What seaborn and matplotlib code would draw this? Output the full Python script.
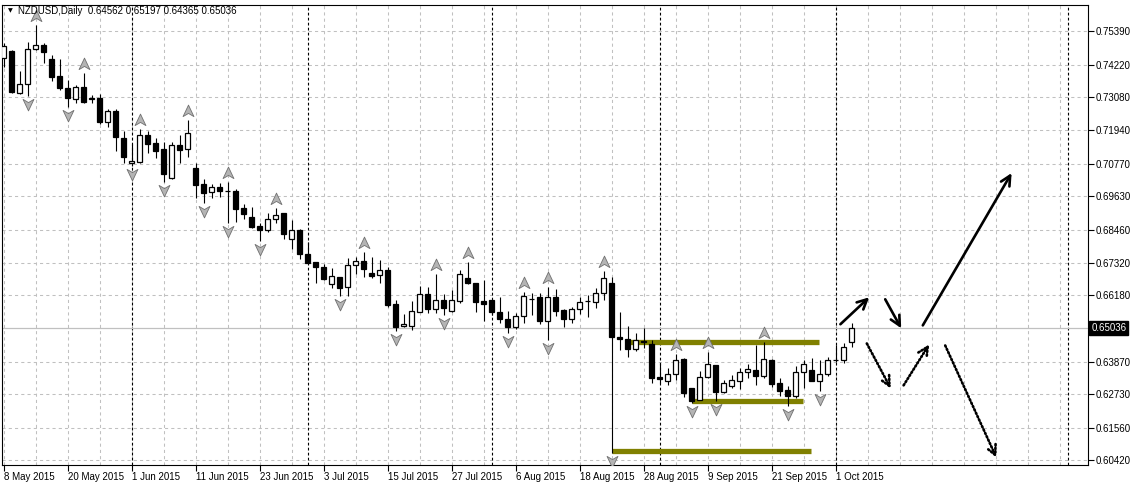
import numpy as np
import pandas as pd
import matplotlib
matplotlib.use('Agg')
import matplotlib.pyplot as plt
import seaborn as sns
from matplotlib.path import Path
from matplotlib.transforms import blended_transform_factory

# NZDUSD daily candles, 8 May 2015 .. 5 Oct 2015
opens = [0.7445, 0.7470, 0.7323, 0.7354, 0.7476, 0.7490, 0.7442, 0.7382, 0.7341, 0.7302,
         0.7344, 0.7306, 0.7306, 0.7222, 0.7260, 0.7166, 0.7079, 0.7083, 0.7177, 0.7149,
         0.7128, 0.7027, 0.7142, 0.7128, 0.7062, 0.7006, 0.6978, 0.6995, 0.6982, 0.6982,
         0.6922, 0.6891, 0.6860, 0.6846, 0.6884, 0.6905, 0.6814, 0.6846, 0.6762, 0.6734,
         0.6717, 0.6657, 0.6682, 0.6647, 0.6724, 0.6737, 0.6696, 0.6689, 0.6706, 0.6588,
         0.6511, 0.6511, 0.6560, 0.6622, 0.6570, 0.6601, 0.6563, 0.6598, 0.6678, 0.6661,
         0.6598, 0.6601, 0.6560, 0.6535, 0.6507, 0.6546, 0.6605, 0.6612, 0.6528, 0.6612,
         0.6567, 0.6535, 0.6570, 0.6598, 0.6595, 0.6626, 0.6661, 0.6473, 0.6466, 0.6431,
         0.6459, 0.6448, 0.6333, 0.6319, 0.6344, 0.6396, 0.6295, 0.6253, 0.6333, 0.6375,
         0.6281, 0.6302, 0.6319, 0.6351, 0.6358, 0.6337, 0.6392, 0.6312, 0.6288, 0.6267,
         0.6351, 0.6358, 0.6319, 0.6344, 0.6392, 0.6392, 0.64562]
highs = [0.7497, 0.7472, 0.7400, 0.7501, 0.7560, 0.7497, 0.7456, 0.7442, 0.7368, 0.7351,
         0.7393, 0.7316, 0.7320, 0.7267, 0.7267, 0.7191, 0.7145, 0.7198, 0.7191, 0.7166,
         0.7152, 0.7152, 0.7177, 0.7229, 0.7079, 0.7023, 0.7006, 0.7009, 0.7013, 0.6988,
         0.6936, 0.6926, 0.6870, 0.6905, 0.6922, 0.6906, 0.6880, 0.6849, 0.6804, 0.6735,
         0.6727, 0.6713, 0.6683, 0.6748, 0.6751, 0.6769, 0.6751, 0.6741, 0.6717, 0.6601,
         0.6553, 0.6598, 0.6650, 0.6647, 0.6692, 0.6622, 0.6636, 0.6706, 0.6734, 0.6662,
         0.6671, 0.6602, 0.6612, 0.6563, 0.6556, 0.6629, 0.6626, 0.6626, 0.6647, 0.6640,
         0.6570, 0.6577, 0.6612, 0.6619, 0.6643, 0.6703, 0.6682, 0.6560, 0.6511, 0.6487,
         0.6504, 0.6462, 0.6382, 0.6364, 0.6413, 0.6399, 0.6296, 0.6354, 0.6420, 0.6376,
         0.6323, 0.6340, 0.6364, 0.6378, 0.6445, 0.6455, 0.6396, 0.6330, 0.6302, 0.6371,
         0.6392, 0.6399, 0.6392, 0.6403, 0.6445, 0.6452, 0.65197]
lows = [0.7414, 0.7323, 0.7320, 0.7313, 0.7473, 0.7428, 0.7365, 0.7334, 0.7274, 0.7288,
        0.7290, 0.7288, 0.7215, 0.7205, 0.7121, 0.7079, 0.7069, 0.7080, 0.7114, 0.7097,
        0.7013, 0.7025, 0.7079, 0.7100, 0.6957, 0.6940, 0.6957, 0.6961, 0.6870, 0.6873,
        0.6884, 0.6853, 0.6807, 0.6839, 0.6870, 0.6814, 0.6779, 0.6744, 0.6729, 0.6661,
        0.6671, 0.6643, 0.6615, 0.6615, 0.6692, 0.6682, 0.6678, 0.6661, 0.6577, 0.6493,
        0.6507, 0.6497, 0.6558, 0.6556, 0.6556, 0.6549, 0.6560, 0.6591, 0.6657, 0.6560,
        0.6528, 0.6549, 0.6521, 0.6487, 0.6500, 0.6521, 0.6549, 0.6518, 0.6462, 0.6546,
        0.6507, 0.6521, 0.6553, 0.6542, 0.6574, 0.6601, 0.6068, 0.6427, 0.6403, 0.6424,
        0.6434, 0.6312, 0.6312, 0.6305, 0.6323, 0.6263, 0.6242, 0.6252, 0.6330, 0.6249,
        0.6277, 0.6295, 0.6291, 0.6330, 0.6305, 0.6330, 0.6298, 0.6267, 0.6232, 0.6260,
        0.6295, 0.6318, 0.6284, 0.6337, 0.6385, 0.6382, 0.64365]
closes = [0.7487, 0.7327, 0.7354, 0.7476, 0.7490, 0.7466, 0.7379, 0.7341, 0.7306, 0.7344,
          0.7292, 0.7303, 0.7222, 0.7260, 0.7170, 0.7100, 0.7086, 0.7177, 0.7145, 0.7121,
          0.7041, 0.7142, 0.7124, 0.7184, 0.7002, 0.6975, 0.6995, 0.6982, 0.6980, 0.6919,
          0.6901, 0.6856, 0.6846, 0.6884, 0.6898, 0.6832, 0.6846, 0.6762, 0.6731, 0.6717,
          0.6675, 0.6685, 0.6643, 0.6724, 0.6737, 0.6710, 0.6685, 0.6706, 0.6584, 0.6507,
          0.6518, 0.6563, 0.6622, 0.6570, 0.6601, 0.6574, 0.6601, 0.6692, 0.6661, 0.6595,
          0.6588, 0.6560, 0.6535, 0.6507, 0.6546, 0.6615, 0.6605, 0.6528, 0.6612, 0.6563,
          0.6535, 0.6570, 0.6595, 0.6598, 0.6626, 0.6678, 0.6473, 0.6466, 0.6431, 0.6462,
          0.6455, 0.6330, 0.6326, 0.6344, 0.6392, 0.6277, 0.6249, 0.6333, 0.6378, 0.6281,
          0.6312, 0.6323, 0.6351, 0.6361, 0.6337, 0.6396, 0.6309, 0.6284, 0.6267, 0.6351,
          0.6378, 0.6319, 0.6344, 0.6392, 0.6393, 0.6438, 0.65036]

date_labels = ['8 May 2015', '20 May 2015', '1 Jun 2015', '11 Jun 2015', '23 Jun 2015',
               '3 Jul 2015', '15 Jul 2015', '27 Jul 2015', '6 Aug 2015', '18 Aug 2015',
               '28 Aug 2015', '9 Sep 2015', '21 Sep 2015', '1 Oct 2015']
label_bars = list(range(0, 105, 8))
price_levels = [0.60420, 0.61560, 0.62730, 0.63870, 0.66180, 0.67320, 0.68460,
                0.69630, 0.70770, 0.71940, 0.73080, 0.74220, 0.75390]
last_price = 0.65036
month_separators = [16, 38, 61, 82, 104, 133]

up_fractals = [4, 10, 17, 23, 28, 34, 45, 54, 58, 65, 68, 75, 84, 88, 95]
down_fractals = [3, 8, 16, 20, 25, 28, 32, 42, 49, 55, 63, 68, 76, 86, 89, 98, 102]

# olive support / resistance lines
olive_price = [0.6456, 0.6251, 0.6075]
olive_from = [78.3, 86.0, 76.0]
olive_to = [101.9, 99.9, 100.9]

# hand-drawn projection arrows
arrow_x0 = [104.6, 110.2, 114.9, 107.9, 112.5, 117.7]
arrow_y0 = [0.6517, 0.6604, 0.6513, 0.6450, 0.6304, 0.6443]
arrow_x1 = [108.2, 112.2, 126.0, 110.9, 115.7, 124.1]
arrow_y1 = [0.6611, 0.6503, 0.7044, 0.6293, 0.6447, 0.6052]
arrow_dotted = [False, False, False, True, True, True]

df = pd.DataFrame({'open': opens, 'high': highs, 'low': lows, 'close': closes})
df['bar'] = np.arange(len(df))
df['bull'] = df['close'] >= df['open']

sns.set_style('white')
plt.rcParams['font.family'] = ['Liberation Sans', 'DejaVu Sans']

fig = plt.figure(figsize=(11.31, 4.82), dpi=100)
ax = fig.add_axes([2 / 1131, 17 / 482, 1086 / 1131, 460 / 482])

ymin, ymax = 0.60263, 0.76299
ax.set_xlim(-0.2, 135.55)
ax.set_ylim(ymin, ymax)

grid_kw = dict(color='#c0c0c0', lw=0.75, ls=(0, (3, 3)), zorder=0)
for b in range(0, 136, 4):
    ax.axvline(b, **grid_kw)
for p in price_levels:
    ax.axhline(p, **grid_kw)
for b in month_separators:
    ax.axvline(b, color='black', lw=0.8, ls=(0, (2.5, 2)), zorder=1)

ax.axhline(last_price, color='#c0c0c0', lw=0.9, zorder=1)

# olive levels
for p, a, b in zip(olive_price, olive_from, olive_to):
    ax.plot([a, b], [p, p], color='#808000', lw=3.8, solid_capstyle='butt', zorder=2)

# candles
ax.vlines(df['bar'], df['low'], df['high'], color='black', lw=0.8, zorder=3)
body_lo = df[['open', 'close']].min(axis=1)
body_h = (df['close'] - df['open']).abs()
ax.bar(df['bar'], body_h, bottom=body_lo, width=0.6,
       color=np.where(df['bull'], 'white', 'black'), edgecolor='black',
       linewidth=0.9, zorder=4)

# fractal arrows
px_price = (ymax - ymin) / 460
arrow_up = Path([(0, 1), (0.85, -0.8), (0, -0.3), (-0.85, -0.8), (0, 1)],
                [Path.MOVETO, Path.LINETO, Path.LINETO, Path.LINETO, Path.CLOSEPOLY])
arrow_dn = Path([(0, -1), (0.85, 0.8), (0, 0.3), (-0.85, 0.8), (0, -1)],
                [Path.MOVETO, Path.LINETO, Path.LINETO, Path.LINETO, Path.CLOSEPOLY])
fu = df.loc[up_fractals]
fd = df.loc[down_fractals]
sns.scatterplot(x=fu['bar'], y=fu['high'] + 9 * px_price, marker=arrow_up, s=85,
                color='#b4b4b4', edgecolor='#707070', linewidth=0.6, ax=ax, zorder=5)
sns.scatterplot(x=fd['bar'], y=fd['low'] - 8 * px_price, marker=arrow_dn, s=85,
                color='#b4b4b4', edgecolor='#707070', linewidth=0.6, ax=ax, zorder=5)

# projection arrows
for x0, y0, x1, y1, dot in zip(arrow_x0, arrow_y0, arrow_x1, arrow_y1, arrow_dotted):
    ax.annotate('', xy=(x1, y1), xytext=(x0, y0),
                arrowprops=dict(arrowstyle='->,head_length=0.7,head_width=0.35',
                                color='black', lw=1.9,
                                linestyle=(0, (0.5, 0.9)) if dot else '-',
                                shrinkA=0, shrinkB=0),
                zorder=6)

# axes / ticks
ax.set_xlabel('')
ax.set_ylabel('')
ax.yaxis.tick_right()
ax.set_yticks(price_levels)
ax.set_yticklabels([f'{p:.5f}' for p in price_levels])
ax.set_xticks(label_bars)
ax.set_xticklabels(date_labels, ha='left')
ax.tick_params(axis='both', which='major', direction='out', length=4, width=0.8,
               color='black', labelsize=7, labelcolor='black', pad=1.5)
ax.tick_params(axis='y', right=True, left=False, labelright=True, labelleft=False)
ax.tick_params(axis='x', bottom=True, pad=1)
for lab in ax.get_xticklabels():
    lab.set_horizontalalignment('left')
for s in ax.spines.values():
    s.set_visible(True)
    s.set_color('black')
    s.set_linewidth(0.8)
ax.grid(False)

# last price tag
trans = blended_transform_factory(ax.transAxes, ax.transData)
ax.text(1.003, last_price, f'{last_price:.5f}', transform=trans, ha='left', va='center',
        fontsize=7, color='white', clip_on=False,
        bbox=dict(boxstyle='square,pad=0.2', facecolor='black', edgecolor='black'))

# header
fig.text(8 / 1131, 1 - 11 / 482, '\u25bc', fontsize=4.5, va='center', ha='left',
         family='DejaVu Sans', color='black')
fig.text(18 / 1131, 1 - 11 / 482,
         f'NZDUSD,Daily  {opens[-1]:.5f} {highs[-1]:.5f} {lows[-1]:.5f} {closes[-1]:.5f}',
         fontsize=7, va='center', ha='left', color='black')

fig.savefig('out.png', dpi=100, facecolor='white')
